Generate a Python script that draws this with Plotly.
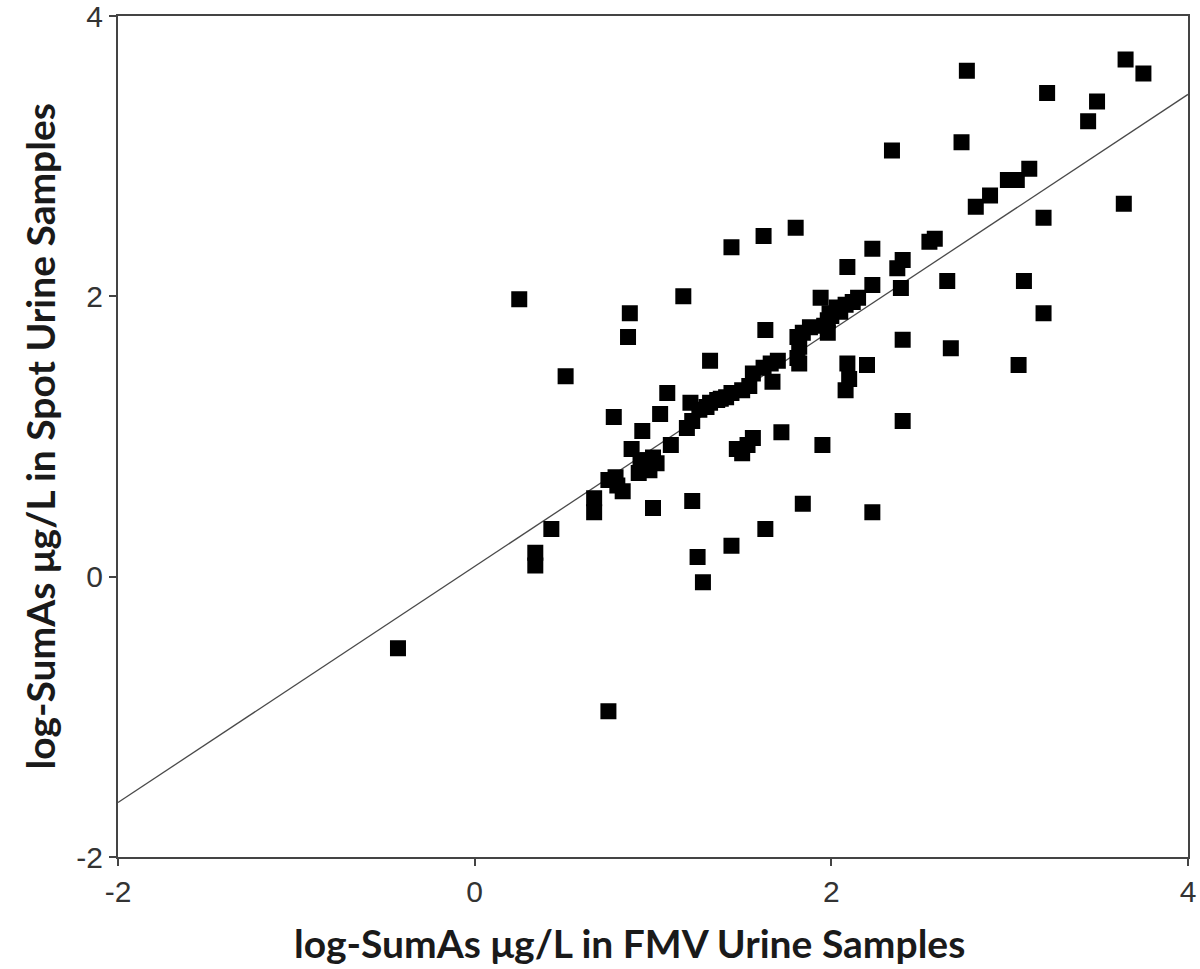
import plotly.graph_objects as go

# FMV (x) vs Spot (y) log-SumAs values
fmv_log = [0.25, 0.51, 0.87, 0.86, 1.17, 1.44, 1.62, 1.80, 2.76, 3.65, 3.75, 3.21, 3.49, 3.44,
           2.34, 2.73, 3.11, 2.99, 3.04, 2.89, 2.81, 3.19, 3.64, 2.58, 2.55, 2.23, 2.09, 2.40,
           2.37, 2.39, 2.65, 2.23, 2.15, 2.12, 2.03, 1.99, 2.05, 1.96, 1.98, 1.94, 2.40, 2.67,
           3.08, 3.19, 3.05, 2.40, 2.23, 2.09, 2.20, 2.10, 2.08, 1.82, 1.72, 1.95, 1.56, 1.53,
           1.50, 1.84, 1.63, 0.67, 0.67, 0.43, 0.34, 0.34, 1.00, 1.22, 1.25, 1.28, 1.44, -0.43,
           0.75, 1.08, 1.04, 0.78, 0.94, 0.88, 1.10, 0.93, 0.97, 1.00, 0.94, 0.98, 0.92, 1.02,
           0.75, 0.80, 0.83, 1.22, 1.19, 1.26, 1.32, 1.38, 1.44, 1.21, 1.47, 1.63, 1.32, 1.30,
           1.36, 1.41, 1.50, 1.54, 1.56, 1.62, 1.66, 1.70, 1.67, 1.81, 1.82, 1.81, 1.84, 1.88,
           1.98, 2.00, 2.08, 0.79]
spot_log = [1.98, 1.43, 1.88, 1.71, 2.00, 2.35, 2.43, 2.49, 3.61, 3.69, 3.59, 3.45, 3.39, 3.25,
            3.04, 3.10, 2.91, 2.83, 2.83, 2.72, 2.64, 2.56, 2.66, 2.41, 2.39, 2.34, 2.21, 2.26,
            2.20, 2.06, 2.11, 2.08, 1.99, 1.96, 1.92, 1.88, 1.89, 1.79, 1.74, 1.99, 1.69, 1.63,
            2.11, 1.88, 1.51, 1.11, 0.46, 1.52, 1.51, 1.41, 1.33, 1.52, 1.03, 0.94, 0.99, 0.94,
            0.88, 0.52, 0.34, 0.56, 0.46, 0.34, 0.17, 0.08, 0.49, 0.54, 0.14, -0.04, 0.22, -0.51,
            -0.96, 1.31, 1.16, 1.14, 1.04, 0.91, 0.94, 0.83, 0.83, 0.85, 0.78, 0.76, 0.74, 0.81,
            0.69, 0.65, 0.61, 1.11, 1.06, 1.19, 1.24, 1.27, 1.31, 1.24, 0.91, 1.76, 1.54, 1.21,
            1.26, 1.28, 1.33, 1.36, 1.45, 1.49, 1.52, 1.54, 1.39, 1.56, 1.64, 1.71, 1.74, 1.78,
            1.83, 1.86, 1.94, 0.71]

# Regression line
fit_x = [-2, 4]
fit_slope = 0.842
fit_intercept = 0.073
fit_y = [fit_intercept + fit_slope * v for v in fit_x]

x_ticks = [-2, 0, 2, 4]
y_ticks = [-2, 0, 2, 4]

x_title = "log-SumAs μg/L in FMV Urine Samples"
y_title = "log-SumAs μg/L in Spot Urine Samples"

fig = go.Figure()
fig.add_trace(go.Scatter(
    x=fit_x, y=fit_y, mode="lines",
    line=dict(color="#4a4a4a", width=1.3),
    hoverinfo="skip", showlegend=False,
))
fig.add_trace(go.Scatter(
    x=fmv_log, y=spot_log, mode="markers",
    marker=dict(symbol="square", size=14, color="black",
                line=dict(color="black", width=2)),
    showlegend=False,
))

axis_common = dict(
    showgrid=False, zeroline=False, automargin=False,
    showline=True, linecolor="#444444", linewidth=2, mirror=True,
    ticks="outside", ticklen=7, tickwidth=1.5, tickcolor="#444444",
    ticklabeloverflow="allow",
    tickfont=dict(family="Liberation Sans, Arial, sans-serif", size=30, color="#333333"),
)

fig.update_layout(
    width=1200, height=969,
    paper_bgcolor="white", plot_bgcolor="white",
    margin=dict(l=118, r=12, t=16, b=112),
    xaxis=dict(range=[-2, 4], tickvals=x_ticks, ticktext=[str(t) for t in x_ticks],
               **axis_common),
    yaxis=dict(range=[-2, 4], tickvals=y_ticks, ticktext=[str(t) for t in y_ticks],
               **axis_common),
    annotations=[
        dict(text="<b>" + x_title + "</b>", xref="paper", yref="paper",
             x=0.4776, y=-0.1023, xanchor="center", yanchor="middle", showarrow=False,
             font=dict(family="Lato, Open Sans, sans-serif", size=39, color="#1a1a1a")),
        dict(text="<b>" + y_title + "</b>", xref="paper", yref="paper",
             x=-0.0729, y=0.5, xanchor="center", yanchor="middle", showarrow=False,
             textangle=-90,
             font=dict(family="Lato, Open Sans, sans-serif", size=39, color="#1a1a1a")),
    ],
)

fig.write_html(
    "out.html",
    config={"displayModeBar": False},
    post_script="document.body.style.margin='0';document.body.style.padding='0';",
)
